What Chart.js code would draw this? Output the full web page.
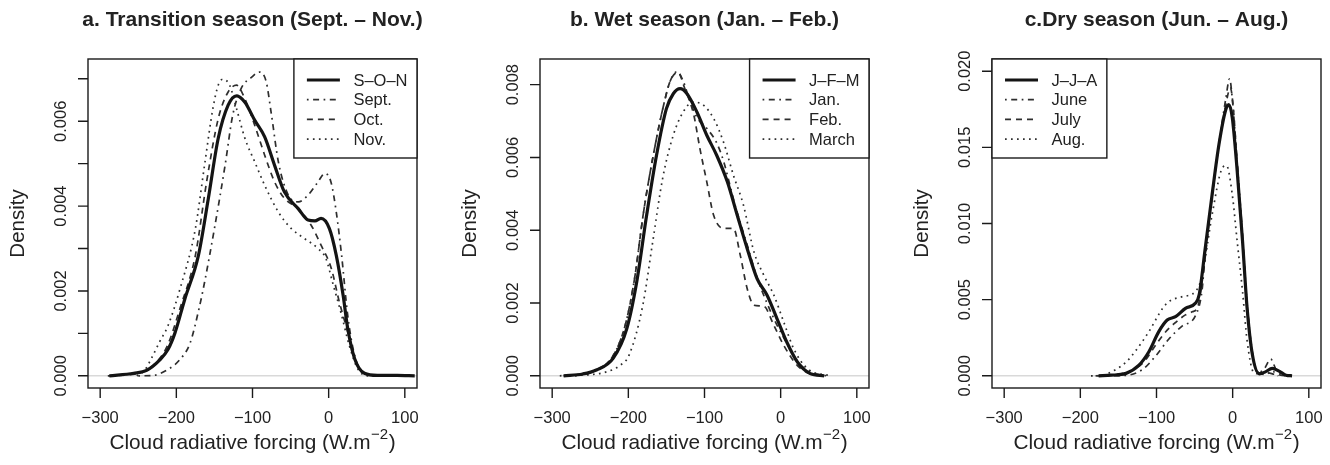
<!DOCTYPE html>
<html><head><meta charset="utf-8">
<script src="https://cdn.jsdelivr.net/npm/chart.js@4.4.1/dist/chart.umd.min.js"></script>
<style>
html,body{margin:0;padding:0;background:#fff;width:1330px;height:465px;overflow:hidden}
canvas{position:absolute;top:0}
</style></head><body>
<canvas id="ca" width="443" height="465" style="left:0px"></canvas>
<canvas id="cb" width="443" height="465" style="left:443px"></canvas>
<canvas id="cc" width="444" height="465" style="left:886px"></canvas>
<script>
// ---------- data ----------
const xTicks = [-300, -200, -100, 0, 100];
const xTickLabels = ['\u2212300', '\u2212200', '\u2212100', '0', '100'];

// panel a: Transition season
const sonX = [-288,-256,-239,-222,-211,-202,-189,-171,-158,-145,-132,-121,-110,-97,-84,-71,-58,-40,-27,-18,-10,1,10,19,25,34,47,64,90,113];
const sonY = [0,0.00006,0.00013,0.00037,0.00062,0.001,0.00180,0.00284,0.00418,0.0056,0.00638,0.0066,0.00645,0.00602,0.00563,0.00496,0.00433,0.00394,0.00367,0.00365,0.00371,0.00347,0.00284,0.0019,0.00112,0.00041,0.00006,0.00001,0.00001,0];
const septX = [-250,-230,-213,-196,-182,-170,-163,-150,-136,-126,-115,-101,-91,-82,-75,-66,-53,-40,-27,-14,-5,3,10,17,25,34,47,73,105];
const septY = [0,0.00001,0.00013,0.00037,0.00077,0.0016,0.0022,0.00347,0.00496,0.00614,0.00677,0.00704,0.00716,0.00693,0.00614,0.00504,0.00426,0.0041,0.00426,0.00457,0.00477,0.00457,0.00386,0.00284,0.00143,0.00049,0.00005,0,0];
const octX = [-290,-250,-230,-212,-195,-175,-160,-145,-132,-121,-110,-97,-84,-71,-58,-40,-23,-10,3.5,14,25,36,51,80,110];
const octY = [0,0.00006,0.00025,0.0007,0.0016,0.00284,0.0046,0.00606,0.00669,0.00685,0.00653,0.0059,0.0052,0.00457,0.00418,0.00394,0.00355,0.00308,0.00253,0.00174,0.00104,0.00033,0.00003,0,0];
const novX = [-252,-242,-233,-222,-211,-195,-175,-163,-152,-145,-139,-130,-121,-110,-97,-84,-66,-49,-32,-14,-3.5,5,17,27,38,51,80,110];
const novY = [0,0.00012,0.0004,0.0008,0.00118,0.00206,0.00347,0.00496,0.0063,0.00685,0.00699,0.00685,0.0063,0.0056,0.00504,0.00449,0.00386,0.00347,0.00324,0.003,0.00276,0.00221,0.00143,0.00072,0.00017,0,0,0];
const yTicksA = [0, 0.001, 0.002, 0.003, 0.004, 0.005, 0.006, 0.007];
const yLabelsA = ['0.000', '', '0.002', '', '0.004', '', '0.006', ''];

// panel b: Wet season
const jfmX = [-285,-260,-242,-220,-202,-189,-176,-163,-150,-141,-132,-123,-110,-97,-84,-70,-57,-44,-31,-18,-5,8,22,39,57];
const jfmY = [0,0.00005,0.00016,0.00048,0.0013,0.00258,0.00441,0.00606,0.00734,0.00775,0.00789,0.00775,0.00725,0.00661,0.00606,0.00533,0.00441,0.0035,0.00267,0.00222,0.00158,0.00093,0.00038,0.00006,0];
const janX = [-290,-260,-240,-220,-204,-192,-180,-166,-153,-145,-136,-128,-120,-110,-97,-84,-75,-60,-44,-31,-18,-5,8,22,39,60];
const janY = [0,0.00005,0.00018,0.00055,0.0014,0.00265,0.0045,0.0062,0.0075,0.0081,0.00836,0.0081,0.0076,0.0071,0.0068,0.0064,0.0059,0.0047,0.0036,0.0027,0.0020,0.0014,0.0009,0.0004,0.0001,0];
const febX = [-285,-260,-240,-220,-204,-192,-180,-166,-153,-145,-135,-126,-114,-106,-97,-88,-75,-62,-53,-44,-35,-22,-9,4,22,43];
const febY = [0,0.00005,0.00018,0.00055,0.0014,0.00265,0.0045,0.0062,0.0075,0.0081,0.00834,0.0079,0.00716,0.00624,0.00533,0.00441,0.00405,0.00405,0.00331,0.0024,0.00194,0.00191,0.00139,0.00084,0.00028,0];
const marX = [-270,-230,-210,-199,-181,-168,-155,-141,-128,-115,-101,-88,-75,-62,-49,-35,-22,-9,4,17,35,66];
const marY = [0,0.0001,0.0003,0.00057,0.00194,0.00368,0.00542,0.00661,0.00725,0.00752,0.00743,0.00707,0.00642,0.00551,0.0047,0.0034,0.00276,0.00222,0.00148,0.00075,0.0002,0];
const yTicksB = [0, 0.002, 0.004, 0.006, 0.008];
const yLabelsB = ['0.000', '0.002', '0.004', '0.006', '0.008'];

// panel c: Dry season
const jjaX = [-176,-160,-140,-123,-110,-97,-86,-75,-62,-49,-44,-36,-27,-18,-9,-5,-0.5,6,13,19,26,35,43,52,61,70,78];
const jjaY = [0,0.00004,0.00016,0.0007,0.00158,0.0029,0.00366,0.00388,0.00443,0.00476,0.00531,0.00838,0.01189,0.01518,0.01748,0.01781,0.01695,0.01342,0.00882,0.00443,0.00136,0.00013,0.00026,0.00049,0.00031,0.00004,0];
const junX = [-186,-160,-140,-118,-101,-84,-66,-49,-40,-36,-27,-18,-9,-4,-0.5,6,13,19,26,33,42,50,57,65];
const junY = [0,0.00001,0.00003,0.00043,0.00131,0.0024,0.00328,0.00394,0.0057,0.0082,0.0118,0.0152,0.0182,0.0195,0.0182,0.0140,0.0092,0.0047,0.0015,0.0002,0.0005,0.0011,0.0004,0];
const julX = [-180,-150,-130,-115,-100,-86,-75,-62,-53,-46,-40,-27,-18,-9,-3,1,6,13,19,26,35,45,55,70];
const julY = [0,0.0001,0.0004,0.001,0.0021,0.003,0.0035,0.004,0.0042,0.0045,0.0062,0.0118,0.0152,0.0178,0.0189,0.0175,0.0138,0.009,0.0046,0.0014,0.0002,0.0002,0.0001,0];
const augX = [-170,-153,-140,-127,-110,-92,-84,-66,-49,-40,-27,-14,-8,-0.5,6,13,19,28,43,52,60];
const augY = [0,0.00043,0.0009,0.00167,0.0029,0.00443,0.00487,0.0052,0.00553,0.0066,0.01057,0.0136,0.0138,0.01189,0.0088,0.00553,0.0023,0.0002,0.0001,0.0003,0];
const yTicksC = [0, 0.005, 0.010, 0.015, 0.020];
const yLabelsC = ['0.000', '0.005', '0.010', '0.015', '0.020'];

// ---------- styling ----------
const FONT = '"Liberation Sans", Arial, Helvetica, sans-serif';
const STY = {
  solid:   {borderColor:'#141414', borderWidth:3.2, borderDash:[]},
  dotdash: {borderColor:'#2e2e2e', borderWidth:1.7, borderDash:[1.7,4.5,6,4.5]},
  dashed:  {borderColor:'#2e2e2e', borderWidth:1.7, borderDash:[6,5]},
  dotted:  {borderColor:'#2e2e2e', borderWidth:1.7, borderDash:[1.7,4.3]}
};
function pts(xs, ys){ return xs.map((x,i)=>({x:x, y:ys[i]})); }
function ds(label, xs, ys, st){
  return Object.assign({label:label, data:pts(xs,ys), fill:false, pointRadius:0,
    tension:0.4, cubicInterpolationMode:'monotone', borderCapStyle:'butt'}, STY[st]);
}

const rPlot = {
  id:'rplot',
  beforeDatasetsDraw(chart, args, o){
    const ctx=chart.ctx, a=chart.chartArea, ys=chart.scales.y;
    const y0 = ys.getPixelForValue(0);
    ctx.save();
    ctx.strokeStyle='#d9d9d9'; ctx.lineWidth=1.5;
    ctx.beginPath(); ctx.moveTo(a.left,y0); ctx.lineTo(a.right,y0); ctx.stroke();
    ctx.restore();
  },
  afterDraw(chart, args, o){
    const ctx=chart.ctx, a=chart.chartArea, xs=chart.scales.x, ys=chart.scales.y;
    ctx.save();
    ctx.strokeStyle='#1a1a1a'; ctx.lineWidth=1.4; ctx.setLineDash([]);
    ctx.strokeRect(a.left, a.top, a.right-a.left, a.bottom-a.top);
    ctx.beginPath();
    xTicks.forEach(v=>{const px=xs.getPixelForValue(v); ctx.moveTo(px,a.bottom); ctx.lineTo(px,a.bottom+10);});
    o.yTicks.forEach(v=>{const py=ys.getPixelForValue(v); ctx.moveTo(a.left,py); ctx.lineTo(a.left-10,py);});
    ctx.stroke();
    ctx.fillStyle='#222'; ctx.textAlign='center'; ctx.textBaseline='middle';
    ctx.font='16.5px '+FONT;
    xTicks.forEach((v,i)=>ctx.fillText(xTickLabels[i], xs.getPixelForValue(v), a.bottom+30));
    o.yTicks.forEach((v,i)=>{
      if(!o.yLabels[i]) return;
      ctx.save(); ctx.translate(a.left-27, ys.getPixelForValue(v)); ctx.rotate(-Math.PI/2);
      ctx.fillText(o.yLabels[i],0,0); ctx.restore();
    });
    // axis titles
    ctx.font='20.5px '+FONT;
    ctx.save(); ctx.translate(a.left-70,(a.top+a.bottom)/2); ctx.rotate(-Math.PI/2);
    ctx.fillText('Density',0,0); ctx.restore();
    const t1='Cloud radiative forcing (W.m', t2='\u22122', t3=')';
    ctx.font='20.8px '+FONT; const w1=ctx.measureText(t1).width, w3=ctx.measureText(t3).width;
    ctx.font='15px '+FONT; const w2=ctx.measureText(t2).width;
    const cx=(a.left+a.right)/2, ty=a.bottom+55;
    let sx=cx-(w1+w2+w3+1)/2;
    ctx.textAlign='left';
    ctx.font='20.8px '+FONT; ctx.fillText(t1,sx,ty);
    ctx.font='15px '+FONT; ctx.fillText(t2,sx+w1+0.5,ty-8);
    ctx.font='20.8px '+FONT; ctx.fillText(t3,sx+w1+w2+1,ty);
    // main title
    ctx.textAlign='center';
    ctx.font='bold 21px '+FONT;
    ctx.fillText(o.title,cx,20);
    // legend
    ctx.font='16.5px '+FONT;
    const dsets=chart.data.datasets;
    let mw=0; dsets.forEach(d=>{mw=Math.max(mw,ctx.measureText(d.label).width);});
    const bw=59.5+mw+9.5, bh=99;
    const bx = o.legendLeft ? a.left : a.right-bw, by=a.top;
    ctx.fillStyle='#fff'; ctx.fillRect(bx,by,bw,bh);
    ctx.strokeStyle='#1a1a1a'; ctx.lineWidth=1.4; ctx.strokeRect(bx,by,bw,bh);
    ctx.textAlign='left'; ctx.fillStyle='#222';
    dsets.forEach((d,i)=>{
      const yy=by+21+i*19.7;
      ctx.save(); ctx.strokeStyle=d.borderColor; ctx.lineWidth=d.borderWidth; ctx.setLineDash(d.borderDash||[]);
      ctx.beginPath(); ctx.moveTo(bx+13,yy); ctx.lineTo(bx+46,yy); ctx.stroke(); ctx.restore();
      ctx.fillText(d.label,bx+59.5,yy+1);
    });
    ctx.restore();
  }
};

function makeChart(id, datasets, pad, ymin, ymax, plugOpts){
  return new Chart(document.getElementById(id), {
    type:'line',
    data:{datasets:datasets},
    options:{
      responsive:false, animation:false, devicePixelRatio:1,
      layout:{padding:pad},
      scales:{
        x:{type:'linear', display:false, min:-316, max:116},
        y:{type:'linear', display:false, min:ymin, max:ymax}
      },
      plugins:{legend:{display:false}, tooltip:{enabled:false}, rplot:plugOpts}
    },
    plugins:[rPlot]
  });
}

makeChart('ca', [
  ds('S\u2013O\u2013N', sonX, sonY, 'solid'),
  ds('Sept.', septX, septY, 'dotdash'),
  ds('Oct.', octX, octY, 'dashed'),
  ds('Nov.', novX, novY, 'dotted')
], {left:88, right:26, top:59, bottom:77}, -0.000287, 0.007467,
  {title:'a. Transition season (Sept. \u2013 Nov.)', yTicks:yTicksA, yLabels:yLabelsA, legendLeft:false});

makeChart('cb', [
  ds('J\u2013F\u2013M', jfmX, jfmY, 'solid'),
  ds('Jan.', janX, janY, 'dotdash'),
  ds('Feb.', febX, febY, 'dashed'),
  ds('March', marX, marY, 'dotted')
], {left:97, right:17, top:59, bottom:77}, -0.000335, 0.008705,
  {title:'b. Wet season (Jan. \u2013 Feb.)', yTicks:yTicksB, yLabels:yLabelsB, legendLeft:false});

makeChart('cc', [
  ds('J\u2013J\u2013A', jjaX, jjaY, 'solid'),
  ds('June', junX, junY, 'dotdash'),
  ds('July', julX, julY, 'dashed'),
  ds('Aug.', augX, augY, 'dotted')
], {left:106, right:9, top:59, bottom:77}, -0.0008, 0.0208,
  {title:'c.Dry season (Jun. \u2013 Aug.)', yTicks:yTicksC, yLabels:yLabelsC, legendLeft:true});
</script>
</body></html>
